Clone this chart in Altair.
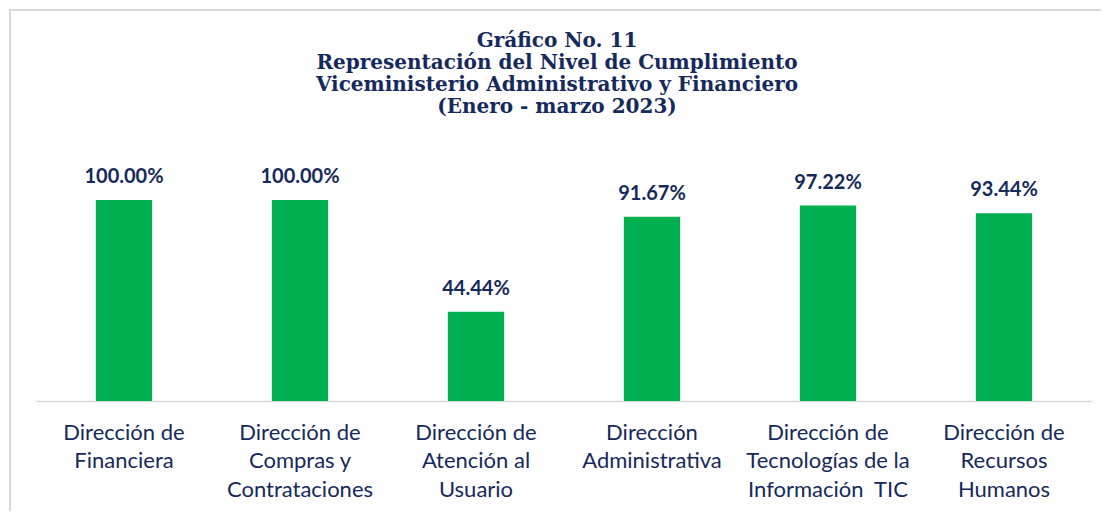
import altair as alt
import pandas as pd

categories = [
    "Dirección de|Financiera",
    "Dirección de|Compras y|Contrataciones",
    "Dirección de|Atención al|Usuario",
    "Dirección|Administrativa",
    "Dirección de|Tecnologías de la|Información\u00a0 TIC",
    "Dirección de|Recursos|Humanos",
]
values = [100.00, 100.00, 44.44, 91.67, 97.22, 93.44]
labels = ["100.00%", "100.00%", "44.44%", "91.67%", "97.22%", "93.44%"]

title_lines = [
    "Gráfico No. 11",
    "Representación del Nivel de Cumplimiento",
    "Viceministerio Administrativo y Financiero",
    "(Enero - marzo 2023)",
]

df = pd.DataFrame({"cat": categories, "val": values, "lab": labels})

NAVY = "#16295C"
GREEN = "#00B050"

x = alt.X(
    "cat:N",
    sort=None,
    title=None,
    scale=alt.Scale(paddingInner=0.68, paddingOuter=0.34),
    axis=alt.Axis(
        labelAngle=0,
        labelExpr="split(datum.label, '|')",
        labelFont="Lato",
        labelFontSize=22,
        labelColor=NAVY,
        labelLineHeight=28.5,
        labelPadding=21,
        ticks=False,
        domainColor="#D9D9D9",
        domainWidth=1.5,
        grid=False,
        labelLimit=300,
    ),
)
y = alt.Y("val:Q", scale=alt.Scale(domain=[0, 100]), axis=None)

base = alt.Chart(df)
bars = base.mark_bar(color=GREEN).encode(x=x, y=y)
text = base.mark_text(
    font="Lato", fontWeight="bold", fontSize=20, color=NAVY,
    baseline="alphabetic", dy=-17,
).encode(x=x, y=y, text="lab:N")

frame = alt.Chart(pd.DataFrame({"a": [0]})).mark_rect(
    fill=None, stroke="#D9D9D9", strokeWidth=2
).encode(
    x=alt.value(-26), x2=alt.value(1200), y=alt.value(-190), y2=alt.value(1000)
)

title = alt.Chart(pd.DataFrame({"a": [0]})).mark_text(
    font="DejaVu Serif", fontWeight="bold", fontSize=20, color=NAVY,
    lineHeight=22, align="center", baseline="top",
).encode(
    x=alt.value(521), y=alt.value(-169), text=alt.value(title_lines)
)

chart = alt.layer(frame, bars, text, title).properties(
    width=1056,
    height=201,
    padding={"left": 28, "top": 192, "right": 9, "bottom": 110},
    autosize=alt.AutoSizeParams(type="none"),
).configure_view(stroke=None)

chart.save("out.html", embed_options={"renderer": "svg", "actions": False})
